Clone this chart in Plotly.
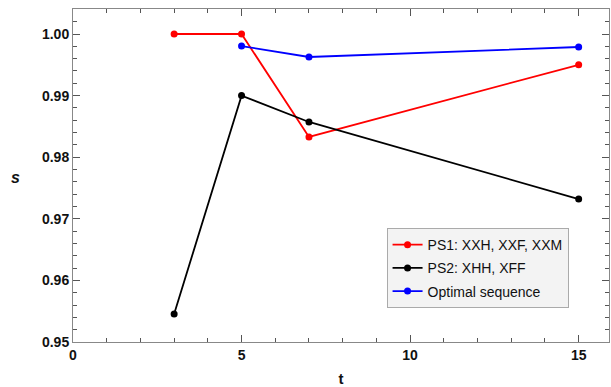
import plotly.graph_objects as go

t_ps1 = [3, 5, 7, 15]
s_ps1 = [1.000, 1.000, 0.9833, 0.9950]
t_ps2 = [3, 5, 7, 15]
s_ps2 = [0.95455, 0.9900, 0.98572, 0.97321]
t_opt = [5, 7, 15]
s_opt = [0.99805, 0.99627, 0.99789]
names = ["PS1: XXH, XXF, XXM", "PS2: XHH, XFF", "Optimal sequence"]
colors = ["#ff0000", "#000000", "#0000ff"]

fig = go.Figure()
for i, (xs, ys, nm, c) in enumerate([(t_ps1, s_ps1, names[0], colors[0]),
                                     (t_ps2, s_ps2, names[1], colors[1]),
                                     (t_opt, s_opt, names[2], colors[2])]):
    fig.add_trace(go.Scatter(x=xs, y=ys, name=nm, mode="lines+markers", legendgroup=f"g{i}",
                             line=dict(color=c, width=1.8),
                             marker=dict(color=c, size=7)))

axis_common = dict(showgrid=False, zeroline=False, showline=True, linecolor="#888888",
                   linewidth=1, mirror="ticks", ticks="inside", ticklen=7, tickcolor="#555555",
                   tickfont=dict(family="Liberation Sans, Arial", size=14, color="#111111", weight="bold"))
fig.update_xaxes(range=[0, 15.9], tickvals=[0, 5, 10, 15], ticktext=["0", "5", "10", "15"],
                 minor=dict(dtick=1, tick0=0, ticks="inside", ticklen=4, tickcolor="#555555"),
                 title=dict(text="<b>t</b>", font=dict(family="Liberation Sans, Arial", size=15, color="#111111"), standoff=12),
                 **axis_common)
fig.update_yaxes(range=[0.95, 1.00406], tickvals=[0.95, 0.96, 0.97, 0.98, 0.99, 1.00],
                 ticktext=["0.95", "0.96", "0.97", "0.98", "0.99", "1.00"],
                 minor=dict(dtick=0.002, tick0=0.95, ticks="inside", ticklen=4, tickcolor="#555555"),
                 **axis_common)
fig.add_annotation(text="<b><i>s</i></b>", xref="paper", yref="paper", x=-0.107, y=0.495,
                   showarrow=False, xanchor="center", yanchor="middle",
                   font=dict(family="Liberation Sans, Arial", size=16, color="#111111"))
fig.update_layout(width=611, height=387, margin=dict(l=73, r=2, t=9, b=45),
                  plot_bgcolor="white", paper_bgcolor="white",
                  legend=dict(x=0.585, y=0.342, xanchor="left", yanchor="top",
                              bgcolor="#f3f3f3", bordercolor="#aaaaaa", borderwidth=1,
                              font=dict(family="Liberation Sans, Arial", size=14, color="#111111"),
                              itemwidth=30, tracegroupgap=2),
                  showlegend=True)
fig.write_html("out.html")
